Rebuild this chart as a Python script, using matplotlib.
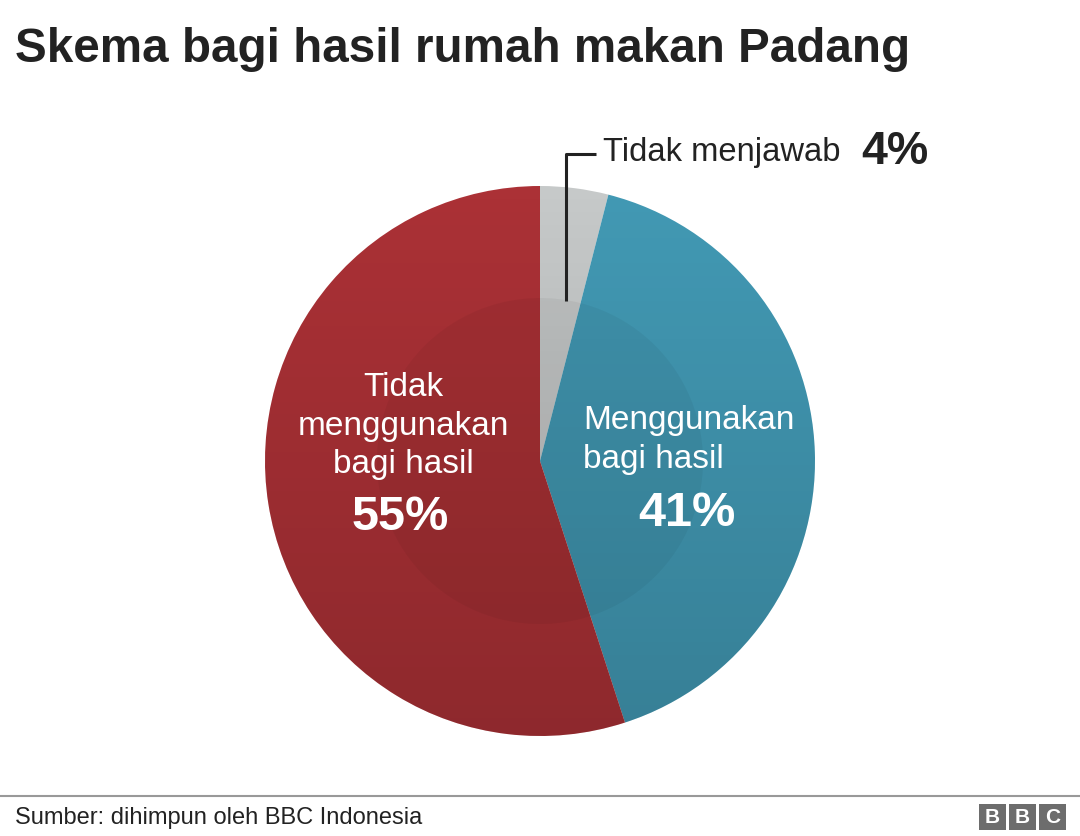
import numpy as np
import matplotlib.pyplot as plt
from matplotlib.patches import Circle, Rectangle

plt.rcParams['font.family'] = ['Liberation Sans', 'DejaVu Sans']

# data
labels = ['Tidak menjawab', 'Menggunakan bagi hasil', 'Tidak menggunakan bagi hasil']
values = [4, 41, 55]
colors = ['#c6c9c9', '#4299b4', '#ab3136']

W, H = 1080, 837
fig = plt.figure(figsize=(W / 100, H / 100), dpi=100)
ax = fig.add_axes([0, 0, 1, 1])

cx, cy, r = 540, H - 462, 275
wedges, _ = ax.pie(values, colors=colors, startangle=90, counterclock=False,
                   center=(cx, cy), radius=r, wedgeprops=dict(linewidth=0))

# vertical shading, darker towards the bottom
grad = np.linspace(0, 1, 256).reshape(-1, 1)
shade = np.zeros((256, 1, 4))
shade[..., 3] = 0.17 * grad
im = ax.imshow(shade, extent=(cx - r, cx + r, cy - r, cy + r), origin='upper',
               aspect='auto', zorder=2)
im.set_clip_path(Circle((cx, cy), r, transform=ax.transData))

# faint inner disc
ax.add_patch(Circle((cx, cy), 163, color='black', alpha=0.045, lw=0, zorder=3))

ax.set_xlim(0, W)
ax.set_ylim(0, H)
ax.set_aspect('auto')
ax.axis('off')

# leader line for small slice
ax.plot([566, 566, 596], [H - 302, H - 155, H - 155], color='#222222', lw=2.2,
        solid_capstyle='butt', zorder=4)
ax.text(603, H - 152, labels[0], fontsize=23.6, color='#222222', va='center', ha='left')
ax.text(861, H - 152, f'{values[0]}%', fontsize=33.5, fontweight='bold',
        color='#222222', va='center', ha='left')

# in-slice labels
ax.text(403, H - 426, 'Tidak\nmenggunakan\nbagi hasil', fontsize=24, color='white',
        ha='center', va='center', linespacing=1.33, zorder=5)
ax.text(400, H - 517, f'{values[2]}%', fontsize=35, fontweight='bold', color='white',
        ha='center', va='center', zorder=5)
ax.text(583, H - 440, 'Menggunakan\nbagi hasil', fontsize=24, color='white',
        ha='left', va='center', linespacing=1.33, zorder=5)
ax.text(687, H - 513, f'{values[1]}%', fontsize=35, fontweight='bold', color='white',
        ha='center', va='center', zorder=5)

# title
fig.text(15 / W, 1 - 50 / H, 'Skema bagi hasil rumah makan Padang', fontsize=34.3,
         fontweight='bold', color='#222222', va='center', ha='left')

# footer
ax.plot([0, W], [H - 797, H - 797], color='#999999', lw=1.5)
fig.text(15 / W, 1 - 818 / H, 'Sumber: dihimpun oleh BBC Indonesia', fontsize=17,
         color='#222222', va='center', ha='left')
for i, ch in enumerate('BBC'):
    x0 = 979 + i * 30
    ax.add_patch(Rectangle((x0, H - 831), 27, 26, color='#6d6d6d', lw=0))
    ax.text(x0 + 13.5, H - 818, ch, fontsize=15, fontweight='bold', color='white',
            ha='center', va='center')

fig.savefig('out.png', dpi=100)
